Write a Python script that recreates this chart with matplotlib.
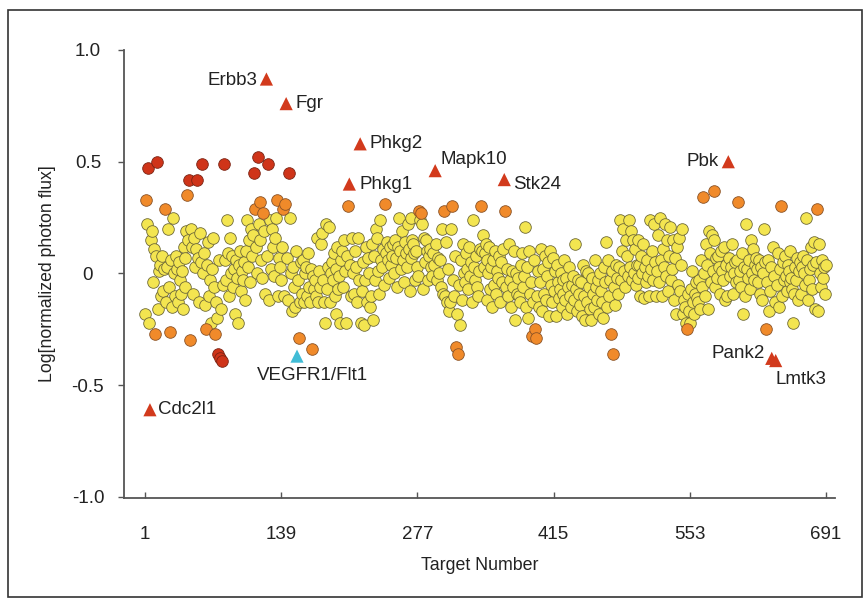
import numpy as np
import matplotlib
matplotlib.use('Agg')
import matplotlib.pyplot as plt
from matplotlib.patches import Rectangle

# Log[normalized photon flux] per target (targets 1..691), in units of 0.01
log_flux_x100 = [
    -18, 33, 22, 47, -22, -61, 15, 19, -4, 11, -27, 8, 50, -16, 1, 4, -10, 8, -8, 2,
    29, -13, 3, 20, -6, -26, 6, -15, 25, 0, -10, 8, 2, -13, 5, -3, -9, 1, -16, 12,
    7, -6, 19, 35, 15, 42, -30, 20, 12, -9, 16, 3, 11, 42, 7, -13, 18, 5, 49, 0,
    9, -14, -25, 4, 14, -10, -3, -22, 2, 16, -6, -27, -13, -20, -36, 6, -38, -16, -39, -5,
    49, 6, -3, 24, 9, -10, 16, 0, 8, -6, 2, -18, 6, -2, -22, 4, 10, -8, 1, -3,
    5, -12, 10, 24, 3, 15, -4, 20, 8, 17, 45, 29, 12, 0, 52, 22, 32, 15, 6, -2,
    27, 19, -9, 87, 8, 49, -12, 24, 2, 20, 12, -1, 16, 25, 33, -10, 7, 3, -3, 12,
    29, -10, 31, 76, 7, -12, 45, 25, 0, -17, 3, -6, -15, 10, -37, -3, -29, -13, 5, -9,
    6, -13, 0, 3, -10, 9, -6, -13, 2, -34, -1, -7, -3, -10, 16, -13, 1, -6, 13, 18,
    -3, -13, -22, 22, -7, 3, 21, -13, 0, 5, -3, 9, -10, -18, 2, 12, -7, -1, -22, 6,
    10, -6, 15, 1, -22, 8, 30, 40, 4, -10, 16, 0, -9, 10, 3, -13, 16, -3, 58, -22,
    -8, 5, -23, -3, 12, -13, 7, 0, -15, -10, 13, -21, 8, -3, 20, 16, 1, -9, 24, 6,
    3, 11, -5, 31, 9, 14, 6, -2, 12, 4, 8, 13, 0, 15, 7, -6, 12, 25, 10, 2,
    19, 6, -4, 14, 9, 3, 22, 11, -8, 7, 25, 15, 13, 9, -3, 10, 3, -1, 28, 24,
    27, 22, -7, 16, 5, 15, 10, -3, 8, 11, 3, -1, 9, 4, 46, 13, -3, 7, 0, 6,
    -6, 20, -9, 28, -10, 14, -13, 2, -17, -13, 20, 30, -3, -10, 8, -33, -18, -36, -5, -23,
    6, -12, 13, 0, -4, 9, 2, -7, 12, -1, 5, -13, 24, 3, -3, 8, -6, -10, 1, 11,
    30, 10, 17, 3, 9, 13, -12, 6, 0, 12, -7, 3, -15, 6, -5, 10, -9, 1, -2, 8,
    -13, 5, -4, 11, 42, 28, -6, 2, -10, 13, -3, -15, 1, -6, 10, -21, 0, -9, -2, -10,
    -13, 4, 9, -6, -1, 21, -15, 3, -20, 10, -9, -4, -28, -13, 6, -25, -29, -10, 1, -15,
    -4, 11, -17, 2, -9, 8, -12, -1, 5, -19, 10, -5, -13, 7, -8, 1, -19, 4, -4, -11,
    -7, 0, -15, -3, -9, 6, -12, -2, -18, -6, 3, -10, -15, -5, -1, -12, 13, -7, -17, -3,
    -9, -14, -4, -19, 4, -10, -21, 1, -13, 0, -6, -16, -21, -2, -9, -15, 6, -6, -12, -3,
    -18, 0, -8, -13, -20, 3, -4, 14, -15, 6, -10, -3, -27, 1, -36, -6, -14, 4, -2, -9,
    3, 24, -3, 10, 20, 1, -6, 15, 8, -1, 24, 3, 19, -3, 15, 0, 11, -5, 4, 15,
    -2, 4, -10, 8, 0, 13, -11, 3, -4, 6, -1, -10, 24, 2, 10, -3, 22, 5, -10, 1,
    17, -4, 25, 6, -10, 11, 3, 22, -1, 15, -8, 8, 21, -3, 2, 15, -12, 7, -18, 12,
    -5, 16, -8, 4, 20, -18, -12, -15, -22, -25, -9, -17, -22, -7, 1, -13, -18, -9, -4, -11,
    -13, -3, -16, 6, -6, 34, 0, -10, 13, 4, -16, 19, 9, -4, 17, 1, 37, 15, -6, 7,
    -2, 8, 3, -9, 10, 1, -3, 12, -12, 4, -10, 50, 7, -1, 3, 13, -9, 0, 5, -4,
    6, 32, -3, 1, -6, 9, -18, 3, -10, 22, 2, -2, 6, -7, 15, 0, 11, -3, 4, 7,
    2, -4, 6, -9, 3, -12, 0, 20, 5, -25, -4, 6, -17, -8, 3, -38, 12, -1, -13, -39,
    -5, 9, -15, 2, 30, -10, 5, -3, 8, -1, -8, 4, 1, -4, 10, -2, -7, -22, -9, 3,
    -3, 7, -12, 1, 5, -9, 3, 8, 0, -5, 25, 6, -12, -3, 2, 12, -7, 4, 14, -16,
    5, 29, -17, 13, 0, -6, 6, -2, 3, -9, 4,
]

red_targets = [4, 13, 46, 54, 59, 75, 77, 79, 81, 111, 115, 126, 147]
orange_targets = [2, 11, 21, 26, 44, 47, 63, 72, 112, 117, 121, 135, 141, 143,
                  157, 170, 207, 244, 279, 281, 304, 312, 316, 318, 341, 366,
                  393, 396, 397, 473, 475, 550, 566, 577, 602, 630, 645, 682]
hit_names = ['Cdc2l1', 'Erbb3', 'Fgr', 'VEGFR1/Flt1', 'Phkg1', 'Phkg2',
             'Mapk10', 'Stk24', 'Pbk', 'Pank2', 'Lmtk3']
hit_targets = [6, 124, 144, 155, 208, 219, 295, 365, 592, 636, 640]
control_names = ['VEGFR1/Flt1']

x_ticks = [1, 139, 277, 415, 553, 691]
y_ticks = [-1.0, -0.5, 0, 0.5, 1.0]
y_tick_labels = ['-1.0', '-0.5', '0', '0.5', '1.0']

# label placement: (dx, dy) in points, horizontal alignment
label_pos = {
    'Cdc2l1': (6, 0, 'left'),
    'Erbb3': (-6.5, -1, 'right'),
    'Fgr': (7, 0, 'left'),
    'VEGFR1/Flt1': (-29, -14, 'left'),
    'Phkg1': (7.5, 0, 'left'),
    'Phkg2': (6.5, 0, 'left'),
    'Mapk10': (3.5, 8, 'left'),
    'Stk24': (6.5, -3.5, 'left'),
    'Pbk': (-7, 0, 'right'),
    'Pank2': (-5, 3.5, 'right'),
    'Lmtk3': (0, -13.5, 'left'),
}

plt.rcParams['font.family'] = ['Liberation Sans', 'DejaVu Sans']

flux = np.array(log_flux_x100) / 100.0
target = np.arange(1, len(flux) + 1)

fig = plt.figure(figsize=(8.66, 6.0), dpi=100)
ax = fig.add_axes([124 / 866, 102 / 600, 711 / 866, 448 / 600])

special = set(red_targets) | set(orange_targets) | set(hit_targets)
yellow = np.array([t not in special for t in target])
ax.scatter(target[yellow], flux[yellow], s=70, c='#f3e550',
           edgecolors='#6f6a38', linewidths=0.6, zorder=2)

o_idx = np.array(orange_targets) - 1
ax.scatter(target[o_idx], flux[o_idx], s=70, c='#f08a2a',
           edgecolors='#8a5226', linewidths=0.6, zorder=3)

r_idx = np.array(red_targets) - 1
ax.scatter(target[r_idx], flux[r_idx], s=70, c='#cf3419',
           edgecolors='#7a2414', linewidths=0.6, zorder=4)

for name, t in zip(hit_names, hit_targets):
    col = '#41bcd6' if name in control_names else '#d23a1c'
    ax.scatter([t], [flux[t - 1]], s=90, marker='^', c=col,
               edgecolors='none', zorder=5)
    dx, dy, ha = label_pos[name]
    ax.annotate(name, (t, flux[t - 1]), xytext=(dx, dy),
                textcoords='offset points', ha=ha, va='center',
                fontsize=13.5, color='#222222', zorder=6)

ax.set_xlim(-20.3, 700.1)
ax.set_ylim(-1.005, 1.0)
ax.set_xticks(x_ticks)
ax.set_yticks(y_ticks)
ax.set_yticklabels(y_tick_labels)
for lab in ax.get_yticklabels():
    lab.set_horizontalalignment('center')

for side in ['top', 'right']:
    ax.spines[side].set_visible(False)
for side in ['left', 'bottom']:
    ax.spines[side].set_color('#555555')
    ax.spines[side].set_linewidth(1.3)

ax.tick_params(axis='y', direction='out', length=4.5, width=1, color='#555555',
               pad=21.5, labelsize=13.5, labelcolor='#222222')
ax.tick_params(axis='x', direction='in', length=4, width=1, color='#555555',
               pad=20, labelsize=13.5, labelcolor='#222222')

ax.set_xlabel('Target Number', fontsize=12.8, color='#222222')
ax.set_ylabel('Log[normalized photon flux]', fontsize=12.7, color='#222222')
ax.xaxis.set_label_coords(0.5, -0.132)
ax.yaxis.set_label_coords(-0.0956, 0.5)

fig.add_artist(Rectangle((8 / 866, 3 / 600), 854 / 866, 587 / 600,
                         transform=fig.transFigure, fill=False,
                         edgecolor='#333333', linewidth=1.2))

fig.savefig('out.png', dpi=100)
